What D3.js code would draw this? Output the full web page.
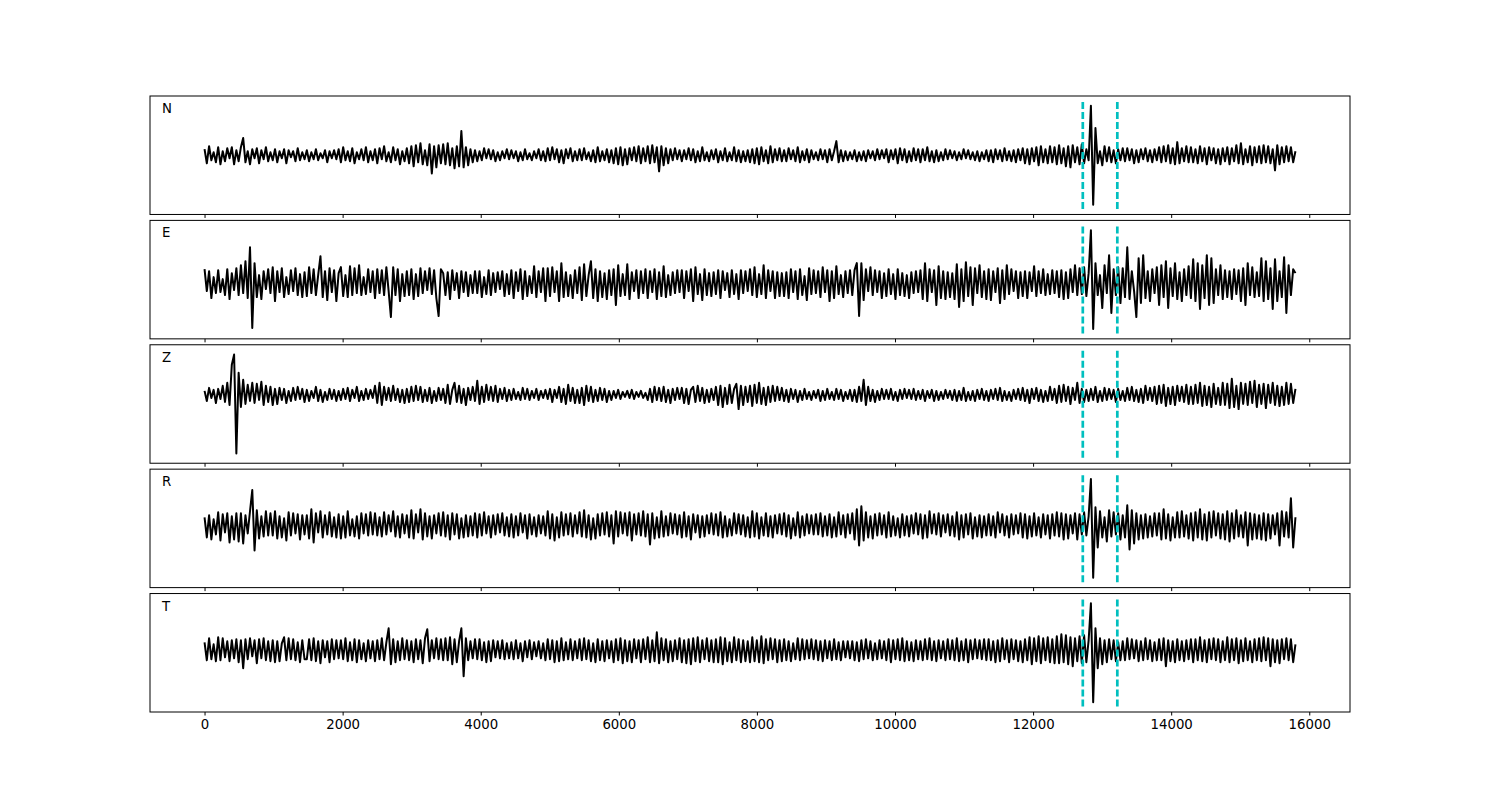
<!DOCTYPE html>
<meta charset="utf-8">
<style>
body { margin: 0; background: #fff; }
text { font-family: "DejaVu Sans", sans-serif; }
</style>
<body>
<script src="https://cdn.jsdelivr.net/npm/d3@7"></script>
<script>

// record length (x units), picks and axis ticks
var tEnd = 15800;
var picks = [12720, 13220];
var xTicks = [0, 2000, 4000, 6000, 8000, 10000, 12000, 14000, 16000];
var channels = ["N", "E", "Z", "R", "T"];

var traceN = [
  6,-8,9,-5,3,-7,8,-9,4,-6,7,-3,8,-9,5,  -6,8,17,-7,4,-9,6,-3,7,-8,5,-4,8,-6,3,
  -5,6,-7,4,-3,6,-8,5,-2,4,-6,7,-5,3,-4,  5,-6,3,-4,6,-5,2,-3,5,-7,4,-3,5,-4,6,
  -7,8,-5,4,-6,7,-8,3,-4,6,-5,8,-7,4,-5,  6,-8,7,-4,9,-6,3,-7,8,-5,6,-9,4,-6,7,
  -8,9,-11,10,-7,12,-9,5,-10,11,-18,9,-12,10,-8,  11,-9,12,-10,7,-13,9,-11,24,-12,8,-10,6,-7,5,
  -6,4,-5,7,-3,6,-4,5,-6,3,-5,4,-3,6,-4,  5,-3,4,-6,3,-5,6,-4,2,-5,4,-3,6,-5,4,
  -6,7,-5,8,-4,6,-7,5,-8,6,-3,7,-6,4,-5,  6,-5,7,-4,3,-6,5,-7,8,-6,4,-5,6,-7,5,
  -8,7,-9,8,-10,6,-9,7,-5,8,-6,9,-8,7,-6,  9,-8,10,-7,8,-16,9,-10,7,-8,6,-5,7,-4,5,
  -6,5,-4,7,-5,6,-7,4,-6,8,-5,3,-6,5,-4,  6,-7,4,-5,7,-6,3,-5,8,-6,5,-7,4,-6,5,
  -7,6,-8,7,-9,8,-6,5,-8,9,-7,6,-5,7,-6,  5,-6,7,-4,5,-6,8,-7,4,-5,6,-7,5,-4,3,
  -5,6,-4,5,-7,6,-5,4,14,-7,5,-6,4,-5,3,  -4,5,-6,3,-5,4,-6,5,-3,4,-5,6,-4,5,-3,
  6,-7,5,-4,6,-8,7,-5,6,-7,4,-6,7,-5,6,  -7,6,-5,8,-6,4,-7,5,-6,3,-5,6,-4,5,-3,
  4,-5,3,-4,6,-3,5,-4,3,-5,4,-6,3,-4,5,  -6,5,-7,6,-4,5,-6,7,-5,4,-6,5,-7,6,-5,
  7,-8,6,-9,7,-6,8,-10,9,-7,6,-8,9,-7,8,  -9,10,-8,7,-11,9,-12,10,-7,8,-9,11,-8,6,-5,
  49,-49,27,-8,4,-10,9,-6,8,-7,5,-8,6,-5,7,  -6,7,-5,6,-8,5,-7,6,-4,7,-6,5,-7,6,-5,
  8,-7,9,-6,10,-8,7,-9,13,-8,7,-6,9,-7,8,  -7,6,-8,9,-6,7,-9,8,-5,7,-8,6,-9,7,-6,
  8,-9,7,-6,10,-8,12,-9,6,-7,9,-10,8,-7,9,  -8,10,-7,9,-8,6,-15,10,-9,8,-7,9,-6,8,-7,
  4
];

var traceE = [
  14,-8,12,-15,6,-10,13,-9,4,-12,14,-16,10,-7,15,  -12,18,-10,22,-15,36,-45,20,-14,8,-16,12,-6,14,-10,
  16,-18,12,-9,15,-14,6,-11,13,-8,15,-12,9,-14,11,  -13,16,-10,14,-12,8,27,-14,12,-17,15,-9,13,-18,10,
  16,-13,8,-14,17,-12,15,-10,18,-12,6,-11,14,-9,12,  -15,14,-10,13,-12,16,-8,-34,16,-12,14,-18,9,-13,12,
  -12,14,-16,9,-13,15,-10,12,-7,15,-11,13,-15,-33,14,  10,-12,11,-16,13,-7,10,-15,12,-9,11,-13,8,-10,12,
  -10,12,-14,6,-11,13,-12,10,-9,11,-6,12,-13,9,-11,  13,-15,11,-8,14,-16,12,-13,7,-10,17,-14,12,-9,15,
  -18,15,-13,16,-9,12,-18,20,-14,11,-13,8,-15,13,-10,  16,-17,19,-13,8,22,-15,14,-18,12,-14,10,-16,13,-12,
  14,-22,18,-13,9,-12,19,-16,11,-8,13,-15,12,-10,14,  -15,12,-9,14,-16,11,-13,17,-14,8,-12,11,-10,13,-9,
  13,-15,12,-8,14,-18,16,-11,9,-17,14,-12,10,-13,11,  -11,13,-15,12,-7,10,-14,13,-11,9,-16,13,-10,12,-8,
  14,-12,16,-14,9,-11,18,-15,13,-8,12,-15,11,-13,10,  -13,11,-15,14,-9,12,-16,14,-12,7,-17,15,-11,13,-10,
  12,-14,16,-9,13,-18,12,-15,17,-11,8,-14,12,-10,13,  -12,13,20,-33,20,-17,14,-8,16,-12,13,-9,12,-15,10,
  -13,14,-11,9,-16,14,-12,10,-13,8,-15,11,-10,12,-9,  13,-16,20,-18,14,-9,13,-22,17,-15,12,-16,11,-14,10,
  -16,19,-24,14,-18,21,-13,16,-22,15,-10,18,-14,12,-16,  14,-17,12,-9,15,-20,13,-16,18,-11,14,-8,12,-15,11,
  -13,12,-15,11,-8,17,-13,12,-10,14,-12,9,-11,13,-10,  12,-14,13,-16,11,-15,14,-9,18,-12,15,-11,16,-13,10,
  53,-46,20,-12,8,-25,18,-10,28,-30,14,-12,16,-20,15,  -14,36,-16,12,-8,-34,25,-20,28,-15,12,-18,14,-10,16,
  -22,18,-14,22,-25,15,-13,20,-16,11,-18,14,-12,17,-15,  24,-18,20,-26,18,-15,28,-22,25,-20,14,-12,18,-16,13,
  -14,12,-16,14,-11,13,-18,15,-22,20,-12,16,-14,11,-13,  25,-18,22,-16,15,-26,24,-18,12,-14,26,-30,18,-12,14,
  10
];

var traceZ = [
  4,-6,7,-3,5,-8,6,-4,9,-7,12,-10,30,40,-58,  22,-12,15,-9,10,-6,12,-8,11,-5,13,-10,9,-7,8,
  -10,6,-9,7,-5,6,-8,4,-6,7,-5,8,-4,6,-7,  5,-6,4,-3,8,-6,5,-7,3,-5,6,-4,5,-6,4,
  -5,6,-4,7,-6,5,-3,8,-6,4,-5,6,-4,5,-3,  9,-8,12,-10,8,-5,7,-6,9,-5,6,-7,5,-8,6,
  -7,8,-6,9,-5,8,-7,5,-6,7,-8,4,-6,7,-5,  6,-8,10,-9,5,12,-7,9,-8,6,-10,7,-5,8,-6,
  14,-9,8,-7,10,-5,8,-6,9,-7,6,-4,7,-6,5,  -5,6,-4,3,-5,7,-4,6,-5,4,-3,6,-5,4,-3,
  5,-4,6,-7,5,-3,8,-7,6,-9,10,-6,7,-8,5,  -8,7,-10,9,-6,8,-7,5,-6,7,-5,6,-7,4,-5,
  4,-3,5,-4,3,-2,4,-3,5,-4,3,-2,4,-3,2,  -5,6,-7,8,-5,7,-6,8,-7,5,-8,6,-5,7,-4,
  7,-8,6,-9,5,8,-7,9,-6,7,-8,5,-7,6,-5,  8,-10,9,-12,7,-9,10,-8,6,11,-14,9,-10,8,-7,
  9,-11,10,-8,12,-9,7,-10,8,-7,9,-6,8,-5,7,  -6,5,-7,6,-4,5,-7,4,-5,6,-4,3,-5,4,-3,
  5,-6,4,-5,6,-4,3,-5,6,-4,5,-6,3,-4,5,  -6,5,-7,8,-6,15,-10,8,-6,5,-7,4,-5,6,-4,
  5,-4,6,-5,3,-6,5,-4,6,-3,5,-4,6,-5,4,  -4,5,-6,4,-3,5,-6,4,-5,3,-4,5,-3,4,-5,
  5,-6,4,-5,7,-6,3,-5,4,-6,5,-4,6,-5,4,  -6,5,-4,6,-5,7,-6,4,-5,3,-6,5,-4,6,-5,
  7,-6,5,-8,6,-4,7,-6,5,-7,4,-6,8,-5,6,  -8,9,-7,10,-6,8,-9,7,-5,12,-8,6,-7,5,-6,
  6,-5,8,-7,4,-6,7,-5,6,-4,5,-7,6,-5,4,  -6,7,-5,8,-6,5,-7,6,-8,9,-5,7,-6,8,-9,
  9,-8,10,-11,7,-9,8,-10,9,-6,8,-7,10,-9,8,  -9,10,-8,12,-11,9,-10,8,-12,11,-9,7,-10,12,-10,
  11,-13,16,-12,9,-14,12,-9,11,-10,13,-8,14,-12,10,  -9,11,-13,10,-8,12,-10,9,-11,8,-10,12,-9,11,-8,
  6
];

var traceR = [
  8,-12,10,-14,6,-9,13,-15,11,-7,12,-17,9,-14,12,  -16,12,-18,10,-8,14,35,-25,15,-13,9,-11,14,-10,12,
  -10,14,-13,9,-12,7,-15,13,-10,12,-8,11,-14,10,-9,  10,-13,16,-17,12,-7,14,-12,10,-9,13,-11,8,-12,11,
  -13,9,-12,14,-10,6,-11,9,-13,12,-8,11,-10,13,-9,  12,-10,8,-11,13,-9,10,-6,14,-11,9,-12,11,-8,10,
  -12,15,-13,11,-7,16,-14,12,-11,9,-13,10,-8,12,-10,  13,-11,10,-14,12,-9,11,-13,7,-12,10,-11,9,-10,12,
  -12,11,-10,13,-8,9,-12,10,-9,11,-7,12,-10,8,-11,  11,-12,9,-10,12,-7,10,-13,11,-9,8,-11,10,-8,9,
  -10,14,-13,11,-15,8,-12,13,-10,11,-9,12,-11,10,-8,  13,-11,15,-12,10,-14,7,-13,11,-10,12,-9,13,-11,10,
  -18,14,-11,13,-8,12,-10,13,-15,11,-9,12,-10,14,-11,  11,-19,12,-13,8,-12,14,-11,9,-10,12,-8,11,-9,10,
  -12,13,-11,9,-14,11,-7,10,-12,9,-11,10,-8,12,-9,  11,-10,13,-12,9,-11,6,-10,12,-8,11,-9,10,-11,8,
  -12,14,-11,12,-13,8,-10,12,-11,9,-12,10,-8,11,-9,  12,-11,10,-13,7,-10,13,-12,9,-10,11,-8,10,-9,11,
  -9,12,-11,9,-10,11,-12,8,-11,13,-9,10,-12,11,-8,  12,-14,16,-20,19,-15,13,-12,9,-13,11,-10,12,-9,10,
  -12,13,-11,9,-10,7,-12,11,-10,9,-11,10,-8,12,-9,  11,-13,10,-12,14,-8,11,-9,12,-11,10,-7,11,-10,9,
  -11,13,-14,10,-12,11,-9,12,-13,8,-11,10,-12,9,-10,  11,-10,9,-12,13,-7,11,-10,9,-12,11,-9,10,-8,12,
  -12,11,-13,9,-11,12,-10,8,-12,11,-9,10,-13,11,-10,  13,-11,12,-14,11,-13,10,-8,12,-14,11,-9,13,-10,9,
  46,-52,18,-22,14,-12,8,-16,15,-11,13,-9,12,-14,10,  -12,20,-24,15,-18,12,-14,10,-13,11,-12,9,-11,12,-10,
  12,-14,16,-13,11,-15,8,-12,13,-12,14,-11,10,-13,12,  -15,13,-12,16,-14,11,-15,13,-12,14,-10,12,-13,11,-14,
  14,-16,12,-13,15,-11,10,-12,13,-20,12,-14,11,-13,10,  -14,12,-15,11,-13,10,-9,12,-20,14,-11,13,-12,27,-22,
  8
];

var traceT = [
  8,-10,12,-9,6,-11,13,-10,12,-7,9,-11,10,-8,11,  -12,10,-18,11,-9,12,-6,10,-13,11,-8,12,-10,9,-11,
  10,-12,9,-11,7,13,-10,12,-9,11,-10,8,-12,10,-9,  -9,11,-10,12,-11,9,-13,10,-7,9,-12,11,-9,10,-8,
  10,-9,12,-11,8,-10,11,-12,10,-9,7,-11,10,-8,9,  -11,10,-9,12,-10,8,22,-14,11,-12,9,-10,12,-9,10,
  -10,9,-12,11,-9,10,-13,12,21,-11,10,-8,12,-9,11,  -10,12,-10,13,-14,11,-12,9,22,-26,12,-10,9,-8,11,
  -9,11,-10,8,-12,9,-11,10,-7,9,-8,10,-9,7,-8,  8,-9,10,-8,7,-11,9,-7,10,-9,8,-6,9,-8,7,
  -10,11,-9,10,-12,9,-11,12,-10,8,-9,11,-10,9,-8,  11,-10,12,-9,10,-11,7,-12,11,-10,9,-11,10,-8,9,
  -12,11,-10,12,-13,10,-11,9,-12,11,-8,10,-12,11,-9,  13,-12,10,-11,18,-13,12,-10,11,-12,9,-11,10,-9,12,
  -12,10,-13,11,-14,12,-11,13,-12,10,-9,12,-11,10,-12,  11,-12,13,-14,12,-11,8,-12,13,-10,11,-12,10,-11,9,
  -12,13,-11,10,-12,14,-13,11,-10,12,-9,11,-12,10,-11,  11,-10,9,-11,7,-9,12,-10,11,-9,10,-8,11,-9,10,
  -10,9,-11,10,-8,9,-10,11,-9,8,-10,9,-7,9,-8,  9,-10,8,-11,10,-9,11,-8,9,-10,7,-9,10,-8,9,
  -10,11,-12,10,-9,11,-10,12,-11,9,-10,8,-11,10,-9,  9,-10,11,-9,12,-10,9,-11,10,-8,9,-10,11,-9,10,
  -10,12,-11,9,-10,11,-12,10,-9,11,-8,10,-9,11,-10,  11,-10,9,-12,10,-11,12,-9,10,-12,11,-9,10,-11,9,
  -12,11,-10,13,-14,12,-11,14,-13,12,-10,13,-12,11,-13,  14,-13,16,-12,15,-14,13,-16,12,-11,14,-13,15,-12,10,
  47,-52,22,-18,12,-14,10,-12,11,-9,10,-11,8,-10,9,  -10,12,-9,11,-8,10,-11,9,-10,12,-9,10,-11,8,-10,
  11,-10,12,-16,10,-11,9,-12,11,-10,9,-11,10,-9,11,  -12,11,-10,13,-11,10,-12,11,-9,12,-10,11,-12,9,-10,
  13,-12,11,-10,12,-13,10,-11,12,-10,9,-12,11,-10,12,  -11,13,-10,12,-16,11,-12,10,-13,11,-9,12,-10,11,-12,
  6
];

var traces = [traceN, traceE, traceZ, traceR, traceT];

// layout (figure 1500x800, matplotlib-like subplots)
var W = 1500, H = 800;
var margin = {top: 96, right: 1350, bottom: 712, left: 150};
var gap = 5.92;
var ph = (margin.bottom - margin.top - 4 * gap) / 5;

var svg = d3.select("body").append("svg")
    .attr("width", W)
    .attr("height", H);

var x = d3.scaleLinear()
    .domain([-790, 16590])
    .range([margin.left, margin.right]);

traces.forEach(function (data, k) {
    var y0 = margin.top + k * (ph + gap);
    var dt = tEnd / (data.length - 1);
    var lo = d3.min(data), hi = d3.max(data);
    var r = hi - lo;
    var vlo = lo - 0.045 * r, vhi = hi + 0.045 * r;
    var pad = 0.05 * (vhi - vlo);

    var y = d3.scaleLinear()
        .domain([vlo - pad, vhi + pad])
        .range([y0 + ph, y0]);

    var g = svg.append("g");

    // clip to the axes
    g.append("clipPath").attr("id", "clip" + k)
      .append("rect")
        .attr("x", margin.left).attr("y", y0)
        .attr("width", margin.right - margin.left).attr("height", ph);

    var line = d3.line()
        .x(function (d, i) { return x(i * dt); })
        .y(function (d) { return y(d); });

    g.append("path")
        .datum(data)
        .attr("clip-path", "url(#clip" + k + ")")
        .attr("fill", "none")
        .attr("stroke", "#000")
        .attr("stroke-width", 2)
        .attr("stroke-linejoin", "round")
        .attr("d", line);

    g.selectAll(".pick")
        .data(picks)
        .enter().append("line")
        .attr("x1", function (d) { return x(d); })
        .attr("x2", function (d) { return x(d); })
        .attr("y1", y(vlo))
        .attr("y2", y(vhi))
        .attr("stroke", "#00bfbf")
        .attr("stroke-width", 2.7)
        .attr("stroke-dasharray", "7,3");

    // bottom axis: ticks on every panel, labels on the last one
    var ax = d3.axisBottom(x)
        .tickValues(xTicks)
        .tickSize(3.5)
        .tickPadding(4.5)
        .tickFormat(k === 4 ? d3.format("d") : "");
    var axg = g.append("g")
        .attr("transform", "translate(0," + (y0 + ph) + ")")
        .call(ax);
    axg.select(".domain").remove();
    axg.selectAll("line").attr("stroke", "#000").attr("stroke-width", 1);
    axg.selectAll("text")
        .attr("font-family", "DejaVu Sans, sans-serif")
        .attr("font-size", 13.3)
        .attr("fill", "#000");

    g.append("rect")
        .attr("x", margin.left).attr("y", y0)
        .attr("width", margin.right - margin.left).attr("height", ph)
        .attr("fill", "none")
        .attr("stroke", "#000")
        .attr("stroke-width", 1);

    g.append("text")
        .attr("x", margin.left + 12)
        .attr("y", y0 + 17)
        .attr("font-size", 13.3)
        .text(channels[k]);
});

</script>
</body>
